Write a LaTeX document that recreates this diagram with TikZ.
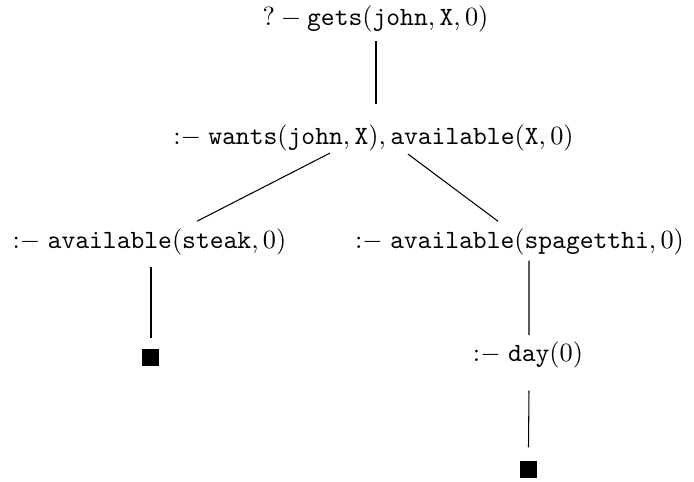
\documentclass[tikz,border=0pt]{standalone}
\usetikzlibrary{calc}
\newcommand{\ifq}{\mathrel{{:}{-}}}
\begin{document}
\begin{tikzpicture}[x={(0.3802pt,0)},y={(0,-0.3802pt)},
  goal/.style={inner sep=0pt,anchor=base},
  edge/.style={line width=0.4pt},
  done/.style={fill=black,inner sep=0pt,minimum size=17*0.3802pt}]
\useasboundingbox (0,0) rectangle (694,482);
\node[goal] (r) at (375.5,26) {$?-\mathtt{gets}(\mathtt{john},\mathtt{X},0)$};
\node[goal] (g) at (373.5,145) {$\ifq\mathtt{wants}(\mathtt{john},\mathtt{X}),\mathtt{available}(\mathtt{X},0)$};
\node[goal] (a) at (149.5,249) {$\ifq\mathtt{available}(\mathtt{steak},0)$};
\node[goal] (b) at (519.5,249) {$\ifq\mathtt{available}(\mathtt{spagetthi},0)$};
\node[goal] (d) at (528,361.5) {$\ifq\mathtt{day}(0)$};
\node[done] (s1) at (150.5,357.5) {};
\node[done] (s2) at (528.5,469.5) {};
\draw[edge] ($(r.south)+(0.5,8)$) -- ($(g.north)+(2.5,-21)$);
\draw[edge] ($(g.south)+(-43.5,1)$) -- ($(a.north)+(47.5,-7.5)$);
\draw[edge] ($(g.south)+(34.5,2)$) -- ($(b.north)+(-21.5,-7.5)$);
\draw[edge] ($(a.south)+(1.5,11)$) -- ($(s1.north)+(0.5,-10)$);
\draw[edge] ($(b.south)+(9.5,4.5)$) -- ($(d.north)+(1,-6)$);
\draw[edge] ($(d.south)+(1,22)$) -- ($(s2.north)+(0,-13)$);
\end{tikzpicture}
\end{document}
